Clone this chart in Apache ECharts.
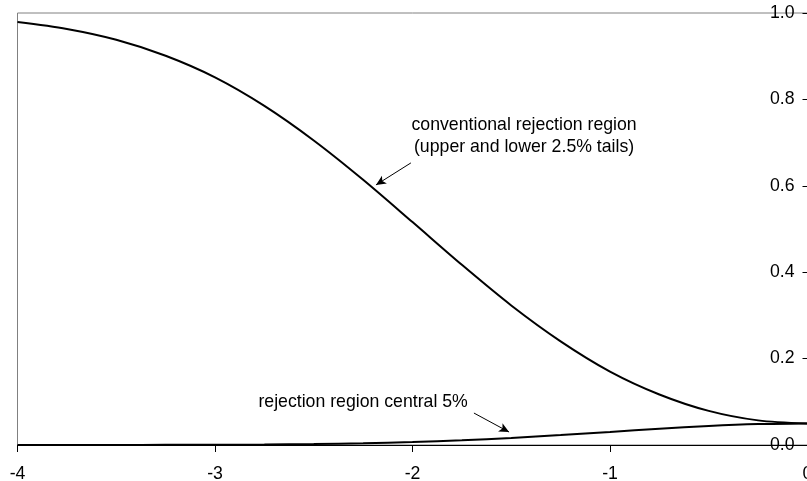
<!DOCTYPE html>
<html>
<head>
<meta charset="utf-8">
<script src="https://cdn.jsdelivr.net/npm/echarts@6/dist/echarts.min.js"></script>
<style>
  html, body { margin: 0; padding: 0; background: #ffffff; }
  #chart { width: 807px; height: 481px; }
</style>
</head>
<body>
<div id="chart"></div>
<script>
// Shift of the true mean (in standard errors)
var shifts = [-4, -3.75, -3.5, -3.25, -3, -2.75, -2.5, -2.25, -2, -1.75, -1.5, -1.25, -1, -0.75, -0.5, -0.25, 0];

// Power with the usual two-tailed rejection region
var conventionalPower = [0.979, 0.963, 0.938, 0.901, 0.851, 0.785, 0.705, 0.614, 0.516, 0.417, 0.323, 0.240, 0.170, 0.117, 0.079, 0.057, 0.050];

// Power when the central 5% is used as rejection region
var centralPower = [0.00002, 0.00005, 0.0001, 0.0003, 0.0006, 0.0011, 0.0022, 0.0040, 0.0068, 0.0108, 0.0162, 0.0229, 0.0303, 0.0378, 0.0442, 0.0485, 0.050];

var xTicks = [-4, -3, -2, -1, 0];
var yTicks = [0, 0.2, 0.4, 0.6, 0.8, 1.0];

var labelConventional = ['conventional rejection region', '(upper and lower 2.5% tails)'];
var labelCentral = 'rejection region central 5%';

var FONT = 'Liberation Sans, Arial, sans-serif';
var FS = 17.7;

function pairs(xs, ys) {
  return xs.map(function (x, i) { return [x, ys[i]]; });
}

var chart = echarts.init(document.getElementById('chart'), null, { renderer: 'canvas' });

chart.setOption({
  animation: false,
  backgroundColor: '#ffffff',
  grid: {
    left: 17.5, right: -0.5, top: 13, bottom: 36,
    containLabel: false, outerBoundsMode: 'none',
    show: true, borderColor: '#808080', borderWidth: 1, backgroundColor: 'transparent'
  },
  xAxis: {
    type: 'value',
    min: xTicks[0], max: xTicks[xTicks.length - 1], interval: 1,
    axisLine: { show: true, onZero: false, lineStyle: { color: '#000000', width: 1 } },
    axisTick: { show: true, inside: false, length: 7, lineStyle: { color: '#000000' } },
    axisLabel: { show: true, margin: 20, color: '#000000', fontFamily: FONT, fontSize: FS,
      showMinLabel: true, showMaxLabel: true, hideOverlap: false },
    splitLine: { show: false }
  },
  yAxis: {
    type: 'value', position: 'right',
    min: yTicks[0], max: yTicks[yTicks.length - 1], interval: 0.2,
    axisLine: { show: true, lineStyle: { color: '#000000', width: 1 } },
    axisTick: { show: true, inside: true, length: 5, lineStyle: { color: '#000000' } },
    axisLabel: { show: true, inside: true, margin: 13, color: '#000000', fontFamily: FONT, fontSize: FS,
      formatter: function (v) { return v.toFixed(1); } },
    splitLine: { show: false }
  },
  series: [
    {
      name: 'conventional', type: 'line', data: pairs(shifts, conventionalPower),
      smooth: 0.3, symbol: 'none', z: 3,
      lineStyle: { color: '#000000', width: 2 },
      markLine: {
        silent: true, symbol: ['none', 'arrow'], symbolSize: [7, 10],
        label: { show: false },
        lineStyle: { color: '#000000', width: 1, type: 'solid' },
        data: [[{ coord: [-2.008, 0.653] }, { coord: [-2.185, 0.602] }]]
      },
      markPoint: {
        silent: true, symbol: 'rect', symbolSize: 0,
        label: { show: true, position: 'inside', color: '#000000', fontFamily: FONT, fontSize: FS,
          lineHeight: 22, align: 'center', verticalAlign: 'middle' },
        data: [{ coord: [-1.435, 0.716], value: 0,
          label: { formatter: labelConventional.join('\n') } }]
      }
    },
    {
      name: 'central', type: 'line', data: pairs(shifts, centralPower),
      smooth: 0.3, symbol: 'none', z: 3,
      lineStyle: { color: '#000000', width: 2 },
      markLine: {
        silent: true, symbol: ['none', 'arrow'], symbolSize: [7, 10],
        label: { show: false },
        lineStyle: { color: '#000000', width: 1, type: 'solid' },
        data: [[{ coord: [-1.689, 0.074] }, { coord: [-1.511, 0.030] }]]
      },
      markPoint: {
        silent: true, symbol: 'rect', symbolSize: 0,
        label: { show: true, position: 'inside', color: '#000000', fontFamily: FONT, fontSize: FS,
          align: 'center', verticalAlign: 'middle' },
        data: [{ coord: [-2.25, 0.100], value: 0, label: { formatter: labelCentral } }]
      }
    }
  ]
});
</script>
</body>
</html>
